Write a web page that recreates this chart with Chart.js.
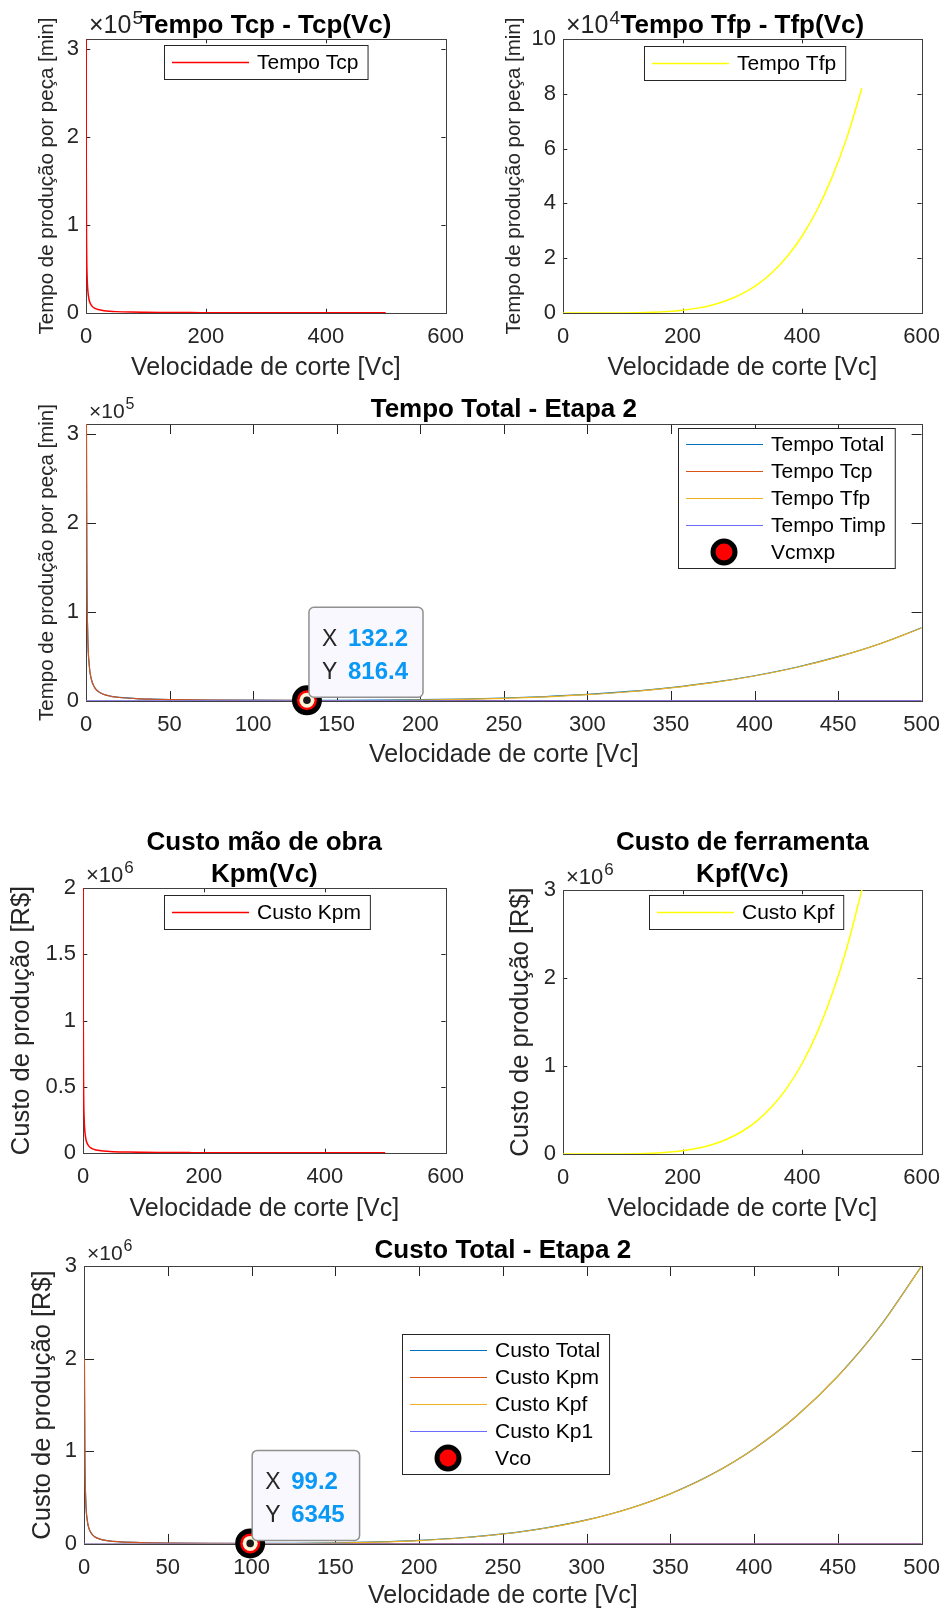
<!DOCTYPE html>
<html>
<head>
<meta charset="utf-8">
<script src="https://cdn.jsdelivr.net/npm/chart.js@4.4.1/dist/chart.umd.min.js"></script>
<style>
    body { margin: 0; background: #fff; width: 951px; height: 1614px; position: relative; overflow: hidden; }
    canvas { position: absolute; }
</style>
</head>
<body>
<canvas id="c1" width="475" height="400" style="left:0;top:0"></canvas>
<canvas id="c2" width="476" height="400" style="left:475px;top:0"></canvas>
<canvas id="c3" width="951" height="420" style="left:0;top:380px"></canvas>
<canvas id="c4" width="475" height="420" style="left:0;top:820px"></canvas>
<canvas id="c5" width="476" height="420" style="left:475px;top:820px"></canvas>
<canvas id="c6" width="951" height="394" style="left:0;top:1220px"></canvas>
<script>
(function() {

    // velocidade de corte (x) e valores
    const vc = [0.25, 0.5, 1, 2, 3, 5, 7, 10, 15, 20, 30, 40, 50, 75, 100, 125, 150, 175, 200, 225, 250, 275, 300, 325, 350, 375, 400, 425, 450, 475, 500];

    const tcp = [311000, 155000, 78000, 39000, 26000, 15600, 11100, 7800, 5200, 3900, 2600, 1950, 1560, 1040, 780, 624, 520, 446, 390, 347, 312, 284, 260, 240, 223, 208, 195, 184, 173, 164, 156];
    const tfp = [0, 0, 0, 0, 0, 0, 0, 0, 0, 0, 0, 0, 1, 9, 36, 106, 253, 531, 1005, 1775, 2944, 4650, 7060, 10370, 14800, 20600, 28100, 37600, 49500, 64100, 82000];
    const tempoTotal = [311090, 155090, 78090, 39090, 26090, 15690, 11190, 7890, 5290, 3990, 2690, 2040, 1651, 1139, 906, 820, 863, 1067, 1485, 2212, 3346, 5024, 7410, 10700, 15113, 20898, 28385, 37874, 49763, 64354, 82246];
    const timpVc = [0.25, 500];
    const timp = [90, 90];
    const vcmxp = [132.2];
    const tcmxp = [816.4];

    const kpm = [2000000, 1000000, 500000, 250000, 166700, 100000, 71400, 50000, 33300, 25000, 16700, 12500, 10000, 6670, 5000, 4000, 3330, 2860, 2500, 2220, 2000, 1820, 1670, 1540, 1430, 1330, 1250, 1180, 1110, 1050, 1000];
    const kpf = [0, 0, 0, 0, 0, 0, 0, 0, 0, 0, 0, 0, 48, 333, 1330, 3880, 9260, 19400, 36800, 65000, 107700, 170200, 258400, 379500, 541700, 754000, 1028500, 1376000, 1811700, 2346000, 3001000];
    const custoTotal = [2000030, 1000030, 500030, 250030, 166730, 100030, 71430, 50030, 33330, 25030, 16730, 12530, 10078, 7033, 6360, 7910, 12620, 22290, 39330, 67250, 109730, 172050, 260100, 381070, 543160, 755360, 1029780, 1377210, 1812840, 2347080, 3002030];
    const kp1Vc = [0.25, 500];
    const kp1 = [30, 30];
    const vco = [99.2];
    const kco = [6345];

    // ticks
    const ticksX600 = [0, 200, 400, 600];
    const ticksX500 = [0, 50, 100, 150, 200, 250, 300, 350, 400, 450, 500];
    const ticksTempo = [0, 1e5, 2e5, 3e5];
    const ticksTfp = [0, 2e4, 4e4, 6e4, 8e4, 1e5];
    const ticksKpm = [0, 5e5, 1e6, 1.5e6, 2e6];
    const ticksCusto = [0, 1e6, 2e6, 3e6];

    const FONT = '"Liberation Sans", Arial, Helvetica, sans-serif';
    Chart.defaults.font.family = FONT;

    // eixos estilo matlab, titulo, legenda e datatip
    const matlab = {
        id: 'matlab',
        beforeDatasetsDraw(chart, args, o) {
            const {ctx, chartArea: a, scales: {x, y}} = chart;
            const tl = 0.012 * Math.max(a.width, a.height);
            ctx.save();
            ctx.strokeStyle = '#262626';
            ctx.lineWidth = 1;
            ctx.beginPath();
            x.ticks.forEach(t => {
                const p = Math.round(x.getPixelForValue(t.value)) + 0.5;
                ctx.moveTo(p, a.bottom); ctx.lineTo(p, a.bottom - tl);
                ctx.moveTo(p, a.top); ctx.lineTo(p, a.top + tl);
            });
            y.ticks.forEach(t => {
                const p = Math.round(y.getPixelForValue(t.value)) + 0.5;
                ctx.moveTo(a.left, p); ctx.lineTo(a.left + tl, p);
                ctx.moveTo(a.right, p); ctx.lineTo(a.right - tl, p);
            });
            ctx.stroke();
            ctx.strokeStyle = '#404040';
            ctx.strokeRect(Math.round(a.left) + 0.5, Math.round(a.top) + 0.5, Math.round(a.width), Math.round(a.height));
            ctx.restore();
        },
        afterDraw(chart, args, o) {
            const {ctx, chartArea: a} = chart;
            ctx.save();

            // titulo
            ctx.fillStyle = '#000';
            ctx.font = 'bold 26px ' + FONT;
            ctx.textAlign = 'center';
            ctx.textBaseline = 'alphabetic';
            o.title.forEach((t, i) => ctx.fillText(t, (a.left + a.right) / 2, o.titleY[i]));

            // x10^n
            ctx.fillStyle = '#262626';
            ctx.textAlign = 'left';
            ctx.font = o.expSize + 'px ' + FONT;
            const ex = a.left + 3;
            ctx.fillText('×10', ex, a.top - 6);
            const ew = ctx.measureText('×10').width;
            ctx.font = Math.round(o.expSize * 0.75) + 'px ' + FONT;
            ctx.fillText(String(o.exp), ex + ew + 1, a.top - 13 - o.expSize * 0.1);

            // legenda
            const sets = chart.data.datasets;
            const lg = o.legend;
            ctx.font = '21px ' + FONT;
            const tw = Math.max(...sets.map(d => ctx.measureText(d.label).width));
            const n = sets.length;
            const lh = n === 1 ? 34 : 32 + 27 * (n - 1);
            const lw = 93 + tw + 9;
            ctx.fillStyle = '#fff';
            ctx.fillRect(lg.left, lg.top, lw, lh);
            ctx.strokeStyle = '#262626';
            ctx.lineWidth = 1;
            ctx.strokeRect(lg.left + 0.5, lg.top + 0.5, lw, lh);
            sets.forEach((d, i) => {
                const cy = lg.top + (n === 1 ? 17 : 16 + 27 * i);
                if (d.type === 'scatter') {
                    ctx.beginPath();
                    ctx.arc(lg.left + 46, cy, 11, 0, 2 * Math.PI);
                    ctx.fillStyle = d.pointBackgroundColor;
                    ctx.fill();
                    ctx.lineWidth = 5;
                    ctx.strokeStyle = d.pointBorderColor;
                    ctx.stroke();
                } else {
                    ctx.beginPath();
                    ctx.moveTo(lg.left + 8, cy + 0.5);
                    ctx.lineTo(lg.left + 85, cy + 0.5);
                    ctx.lineWidth = d.borderWidth;
                    ctx.strokeStyle = d.borderColor;
                    ctx.stroke();
                }
                ctx.fillStyle = '#000';
                ctx.textBaseline = 'middle';
                ctx.fillText(d.label, lg.left + 93, cy + 1);
            });

            // datatip
            if (o.tip) {
                const idx = sets.findIndex(d => d.type === 'scatter');
                const pt = chart.getDatasetMeta(idx).data[0];
                const val = sets[idx].data[0];
                ctx.beginPath();
                ctx.arc(pt.x, pt.y, 7.5, 0, 2 * Math.PI);
                ctx.fillStyle = '#fdf6d8';
                ctx.fill();
                ctx.beginPath();
                ctx.arc(pt.x, pt.y, 3.8, 0, 2 * Math.PI);
                ctx.fillStyle = '#1a1a1a';
                ctx.fill();

                const fmt = v => String(Number(v.toPrecision(4)));
                const xs = fmt(val.x), ys = fmt(val.y);
                ctx.font = 'bold 24px ' + FONT;
                const nw = Math.max(ctx.measureText(xs).width, ctx.measureText(ys).width);
                const bw = 39 + nw + 15, bh = 90;
                const bx = pt.x + 2, by = pt.y - 3 - bh;
                ctx.beginPath();
                ctx.roundRect(bx, by, bw, bh, 5);
                ctx.fillStyle = '#f8f8fe';
                ctx.fill();
                ctx.lineWidth = 1.5;
                ctx.strokeStyle = '#909090';
                ctx.stroke();
                ctx.textBaseline = 'alphabetic';
                ctx.font = '23px ' + FONT;
                ctx.fillStyle = '#262626';
                ctx.fillText('X', bx + 13, by + 39);
                ctx.fillText('Y', bx + 13, by + 72);
                ctx.font = 'bold 24px ' + FONT;
                ctx.fillStyle = '#0a98f6';
                ctx.fillText(xs, bx + 39, by + 39);
                ctx.fillText(ys, bx + 39, by + 72);
            }
            ctx.restore();
        }
    };

    function lineSet(label, xs, ys, color, width, order) {
        return {
            type: 'line', label, order,
            data: xs.map((x, i) => ({x, y: ys[i]})),
            borderColor: color, borderWidth: width,
            pointRadius: 0, cubicInterpolationMode: 'monotone'
        };
    }

    function markerSet(label, xs, ys) {
        return {
            type: 'scatter', label, order: 0, clip: false,
            data: xs.map((x, i) => ({x, y: ys[i]})),
            pointRadius: 12.5, pointBorderWidth: 5,
            pointBackgroundColor: '#ff0000', pointBorderColor: '#000'
        };
    }

    function grafico(id, datasets, ax, deco) {
        new Chart(document.getElementById(id), {
            type: 'line',
            data: { datasets },
            options: {
                responsive: false,
                animation: false,
                devicePixelRatio: 1,
                layout: { padding: { top: ax.padTop, right: ax.padRight, left: 0, bottom: 0 } },
                scales: {
                    x: {
                        type: 'linear', min: 0, max: ax.xTicks[ax.xTicks.length - 1],
                        grid: { display: false, drawTicks: false },
                        border: { display: false },
                        afterBuildTicks: s => { s.ticks = ax.xTicks.map(value => ({ value })); },
                        ticks: {
                            autoSkip: false, maxRotation: 0,
                            padding: 11, color: '#262626', font: { size: 22 }
                        },
                        title: {
                            display: true, text: 'Velocidade de corte [Vc]', color: '#262626',
                            font: { size: 25 }, padding: { top: 0, bottom: ax.xtPad }
                        },
                        afterFit: s => { s.height = ax.xh; }
                    },
                    y: {
                        type: 'linear', min: 0, max: ax.ymax,
                        grid: { display: false, drawTicks: false },
                        border: { display: false },
                        afterBuildTicks: s => { s.ticks = ax.yTicks.map(value => ({ value })); },
                        ticks: {
                            autoSkip: false, padding: 7,
                            color: '#262626', font: { size: 22 },
                            callback: v => String(Math.round(v / Math.pow(10, ax.exp) * 10) / 10)
                        },
                        title: {
                            display: true, text: ax.ytitle, color: '#262626',
                            font: { size: ax.ytSize }, padding: { top: ax.ytPad, bottom: 0 }
                        },
                        afterFit: s => { s.width = ax.yw; }
                    }
                },
                plugins: {
                    legend: { display: false },
                    tooltip: { enabled: false },
                    matlab: Object.assign({ exp: ax.exp }, deco)
                }
            },
            plugins: [matlab]
        });
    }

    const tituloT = 'Tempo de produção por peça [min]';
    const tituloK = 'Custo de produção [R$]';

    grafico('c1', [lineSet('Tempo Tcp', vc, tcp, '#ff0000', 1.5, 1)],
        { padTop: 39, padRight: 28, yw: 86, xh: 87, xTicks: ticksX600, yTicks: ticksTempo, ymax: Math.max(...tcp), exp: 5,
          ytitle: tituloT, ytSize: 20.5, ytPad: 35, xtPad: 17 },
        { title: ['Tempo Tcp - Tcp(Vc)'], titleY: [33], expSize: 25, legend: { left: 164, top: 45 } });

    grafico('c2', [lineSet('Tempo Tfp', vc, tfp, '#ffff00', 1.5, 1)],
        { padTop: 39, padRight: 26, yw: 88, xh: 87, xTicks: ticksX600, yTicks: ticksTfp, ymax: 1e5, exp: 4,
          ytitle: tituloT, ytSize: 20.5, ytPad: 27, xtPad: 17 },
        { title: ['Tempo Tfp - Tfp(Vc)'], titleY: [33], expSize: 25, legend: { left: 169, top: 46 } });

    grafico('c3', [
            lineSet('Tempo Total', vc, tempoTotal, '#0072BD', 1.2, 5),
            lineSet('Tempo Tcp', vc, tcp, '#D95319', 1.2, 4),
            lineSet('Tempo Tfp', vc, tfp, '#EDB120', 1.2, 3),
            lineSet('Tempo Timp', timpVc, timp, '#6b6bff', 1.2, 2),
            markerSet('Vcmxp', vcmxp, tcmxp)
        ],
        { padTop: 44, padRight: 25, yw: 86, xh: 99, xTicks: ticksX500, yTicks: ticksTempo, ymax: Math.max(...tempoTotal), exp: 5,
          ytitle: tituloT, ytSize: 20.5, ytPad: 35, xtPad: 30 },
        { title: ['Tempo Total - Etapa 2'], titleY: [37], expSize: 21, legend: { left: 678, top: 48 }, tip: true });

    grafico('c4', [lineSet('Custo Kpm', vc, kpm, '#ff0000', 1.5, 1)],
        { padTop: 68, padRight: 28, yw: 83, xh: 87, xTicks: ticksX600, yTicks: ticksKpm, ymax: Math.max(...kpm), exp: 6,
          ytitle: tituloK, ytSize: 25.5, ytPad: 7, xtPad: 16 },
        { title: ['Custo mão de obra', 'Kpm(Vc)'], titleY: [30, 62], expSize: 22, legend: { left: 164, top: 75 } });

    grafico('c5', [lineSet('Custo Kpf', vc, kpf, '#ffff00', 1.5, 1)],
        { padTop: 70, padRight: 24, yw: 88, xh: 86, xTicks: ticksX600, yTicks: ticksCusto, ymax: 3e6, exp: 6,
          ytitle: tituloK, ytSize: 25.5, ytPad: 31, xtPad: 16 },
        { title: ['Custo de ferramenta', 'Kpf(Vc)'], titleY: [30, 62], expSize: 22, legend: { left: 174, top: 75 } });

    grafico('c6', [
            lineSet('Custo Total', vc, custoTotal, '#0072BD', 1.2, 5),
            lineSet('Custo Kpm', vc, kpm, '#D95319', 1.2, 4),
            lineSet('Custo Kpf', vc, kpf, '#EDB120', 1.2, 3),
            lineSet('Custo Kp1', kp1Vc, kp1, '#6b6bff', 1.2, 2),
            markerSet('Vco', vco, kco)
        ],
        { padTop: 46, padRight: 23, yw: 84, xh: 70, xTicks: ticksX500, yTicks: ticksCusto, ymax: Math.max(...custoTotal), exp: 6,
          ytitle: tituloK, ytSize: 25.5, ytPad: 28, xtPad: 3 },
        { title: ['Custo Total - Etapa 2'], titleY: [38], expSize: 21, legend: { left: 402, top: 114 }, tip: true });

})();
</script>
</body>
</html>
